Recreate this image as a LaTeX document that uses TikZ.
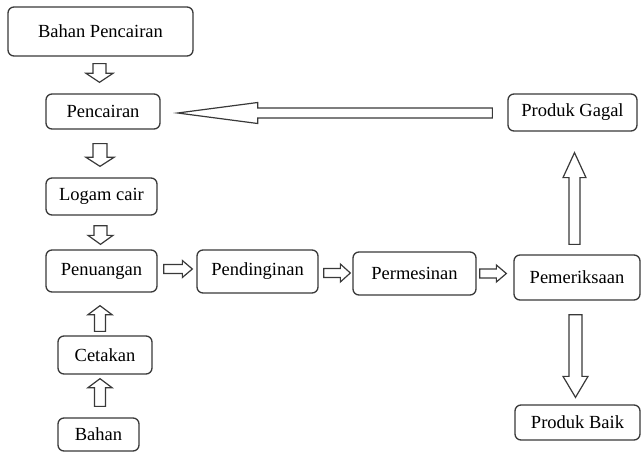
\documentclass[tikz,border=0pt]{standalone}
\usepackage{fontspec}
\setmainfont{Liberation Serif}
\usetikzlibrary{calc}
% outlined block arrow from tail #1 to tip #2: half shaft #3, half head #4, head length #5
\newcommand{\blockarr}[5]{%
  \coordinate (#1-base) at ($(#2)!#5!(#1)$);
  \draw[barrow] ($(#1)!#3!90:(#2)$) -- ($(#1-base)!#3!-90:(#1)$) -- ($(#1-base)!#4!-90:(#1)$) -- (#2)
    -- ($(#1-base)!#4!90:(#1)$) -- ($(#1-base)!#3!90:(#1)$) -- ($(#1)!#3!-90:(#2)$) -- cycle;}
\begin{document}
\begin{tikzpicture}[x=1pt,y=-1pt,
  box/.style={draw=gray!45!black,line width=1.3pt,rounded corners=6pt,fill=white,
    font=\fontsize{18.5}{22}\selectfont,inner sep=0pt},
  barrow/.style={draw=gray!45!black,line width=1.2pt,fill=white,line join=miter}]
\useasboundingbox (0,0) rectangle (641,452);
\node[box,minimum width=185pt,minimum height=49pt] (bahanpencairan) at (100.5,31.5) {Bahan Pencairan};
\node[box,minimum width=114pt,minimum height=35pt] (pencairan) at (103,111.5) {Pencairan};
\node[box,minimum width=111pt,minimum height=37pt] (logamcair) at (101.5,196.5) {Logam cair};
\node[box,minimum width=111pt,minimum height=42pt] (penuangan) at (101.5,271) {Penuangan};
\node[box,minimum width=121pt,minimum height=43pt] (pendinginan) at (257.5,271.5) {Pendinginan};
\node[box,minimum width=123pt,minimum height=43pt] (permesinan) at (414.5,273.5) {Permesinan};
\node[box,minimum width=126pt,minimum height=45pt] (pemeriksaan) at (577,277.5) {Pemeriksaan};
\node[box,minimum width=129pt,minimum height=37pt] (produkgagal) at (572.5,112.5) {Produk Gagal};
\node[box,minimum width=125pt,minimum height=35pt] (produkbaik) at (577.5,422.5) {Produk Baik};
\node[box,minimum width=94pt,minimum height=38pt] (cetakan) at (105,355) {Cetakan};
\node[box,minimum width=81pt,minimum height=33pt] (bahan) at (98.5,434.5) {Bahan};
% arrow ends
\coordinate (t1) at ([xshift=-1pt,yshift=-7pt]bahanpencairan.south);
\coordinate (h1) at ([yshift=11pt]t1 |- pencairan.north);
\coordinate (t2) at ([xshift=-3pt,yshift=-14pt]pencairan.south);
\coordinate (h2) at ([yshift=11pt]t2 |- logamcair.north);
\coordinate (t3) at ([xshift=-1pt,yshift=-10pt]logamcair.south);
\coordinate (h3) at ([yshift=5pt]t3 |- penuangan.north);
\coordinate (t4) at ([xshift=6pt,yshift=2pt]penuangan.east);
\coordinate (h4) at ([xshift=-4pt]t4 -| pendinginan.west);
\coordinate (t5) at ([xshift=5pt,yshift=-1.5pt]pendinginan.east);
\coordinate (h5) at ([xshift=-2pt]t5 -| permesinan.west);
\coordinate (t6) at ([xshift=3pt]permesinan.east);
\coordinate (h6) at ([xshift=-7pt]t6 -| pemeriksaan.west);
\coordinate (t7) at ([xshift=-5pt,yshift=4pt]cetakan.north);
\coordinate (h7) at ([yshift=-13pt]t7 |- penuangan.south);
\coordinate (t8) at ([xshift=1.5pt,yshift=11pt]bahan.north);
\coordinate (h8) at ([yshift=-4pt]t8 |- cetakan.south);
\coordinate (t9) at ([xshift=-2.5pt,yshift=10pt]pemeriksaan.north);
\coordinate (h9) at ([yshift=-21pt]t9 |- produkgagal.south);
\coordinate (t10) at ([xshift=-1.5pt,yshift=-14pt]pemeriksaan.south);
\coordinate (h10) at ([yshift=7pt]t10 |- produkbaik.north);
\coordinate (t11) at ([xshift=-15pt,yshift=-0.5pt]produkgagal.west);
\coordinate (h11) at ([xshift=17pt]t11 -| pencairan.east);
\blockarr{t1}{h1}{6.5pt}{13.5pt}{9pt}
\blockarr{t2}{h2}{7pt}{14pt}{9pt}
\blockarr{t3}{h3}{6.5pt}{12.5pt}{9pt}
\blockarr{t4}{h4}{4.5pt}{8.5pt}{10pt}
\blockarr{t5}{h5}{4.5pt}{9pt}{10pt}
\blockarr{t6}{h6}{4.5pt}{8.5pt}{10pt}
\blockarr{t7}{h7}{5.5pt}{12pt}{9pt}
\blockarr{t8}{h8}{5.5pt}{12pt}{9pt}
\blockarr{t9}{h9}{5.5pt}{11.5pt}{25pt}
\blockarr{t10}{h10}{6.5pt}{12.5pt}{21pt}
\blockarr{t11}{h11}{5pt}{10.5pt}{80pt}
\end{tikzpicture}
\end{document}
